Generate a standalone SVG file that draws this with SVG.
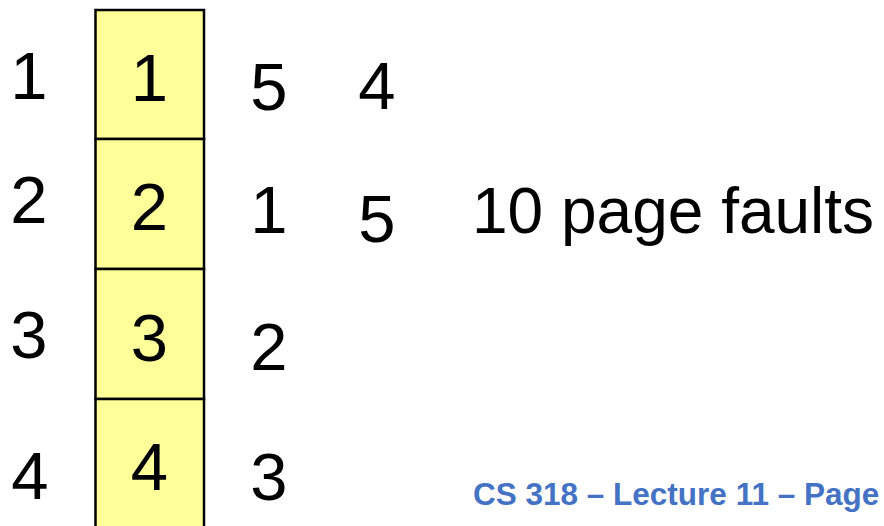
<svg xmlns="http://www.w3.org/2000/svg" width="884" height="526" viewBox="0 0 884 526">
<style>
.d{font-family:"Liberation Sans",Arial,sans-serif;font-size:67px;fill:#000;text-anchor:middle}
.t{font-family:"Liberation Sans",Arial,sans-serif;font-size:64px;fill:#000}
.f{font-family:"Liberation Sans",Arial,sans-serif;font-size:31.5px;font-weight:bold;fill:#4472C4}
.cell{fill:#FFFF99;stroke:#000;stroke-width:2.5}
</style>
<rect width="884" height="526" fill="#fff"/>
<g id="frames">
<g id="frame1"><rect class="cell" x="95.5" y="10" width="108.5" height="129"/><text class="d" x="149.5" y="101">1</text></g>
<g id="frame2"><rect class="cell" x="95.5" y="139" width="108.5" height="130"/><text class="d" x="149.5" y="230">2</text></g>
<g id="frame3"><rect class="cell" x="95.5" y="269" width="108.5" height="130"/><text class="d" x="149.5" y="361">3</text></g>
<g id="frame4"><rect class="cell" x="95.5" y="399" width="108.5" height="140"/><text class="d" x="149.5" y="490">4</text></g>
</g>
<g id="labels">
<text class="d" x="29" y="99">1</text>
<text class="d" x="29" y="223">2</text>
<text class="d" x="29" y="358">3</text>
<text class="d" x="30" y="499">4</text>
</g>
<g id="col3">
<text class="d" x="269" y="110">5</text>
<text class="d" x="269" y="233">1</text>
<text class="d" x="269" y="370">2</text>
<text class="d" x="269" y="500">3</text>
</g>
<g id="col4">
<text class="d" x="377" y="109">4</text>
<text class="d" x="377" y="242">5</text>
</g>
<text class="t" x="472" y="233">10 page faults</text>
<text class="f" x="473" y="505">CS 318 – Lecture 11 – Page</text>
</svg>
